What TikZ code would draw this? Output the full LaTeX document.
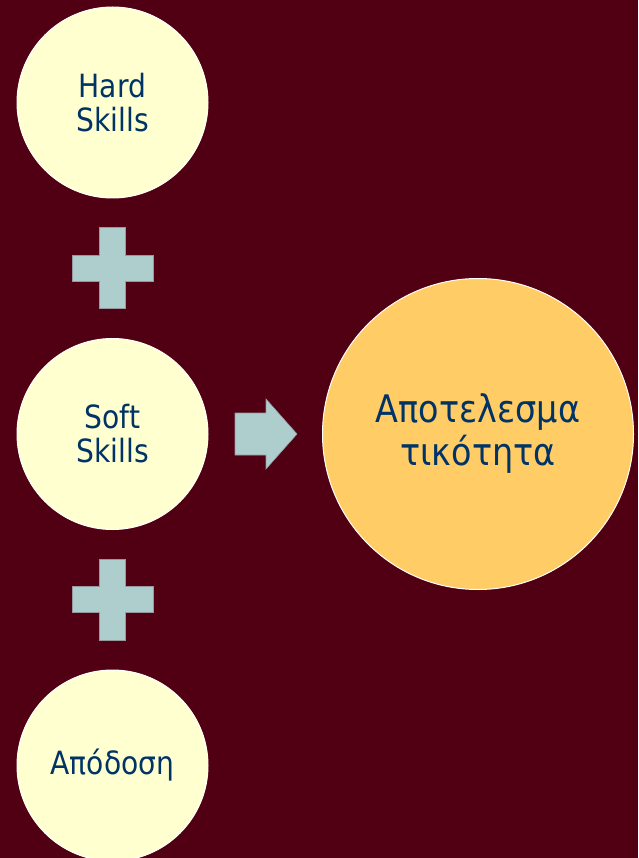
\documentclass[tikz,border=0pt]{standalone}
\usepackage{fontspec}
\newfontfamily\lblfont[FakeStretch=0.88]{DejaVu Sans}
\usetikzlibrary{calc, positioning}
\definecolor{bgred}{RGB}{80,0,18}
\definecolor{cream}{RGB}{255,255,208}
\definecolor{gold}{RGB}{255,204,102}
\definecolor{plusgray}{RGB}{174,205,205}
\definecolor{txtblue}{RGB}{0,51,102}

\begin{document}
\begin{tikzpicture}[
  x=1pt, y=-1pt,
  skillcirc/.style={
    circle,
    draw=white,
    line width=1pt,
    fill=cream,
    minimum size=191pt,
    inner sep=0pt,
    align=center,
    text=txtblue,
    font=\lblfont\fontsize{32}{34}\selectfont
    },
  resultcirc/.style={
    skillcirc,
    fill=gold,
    minimum size=311pt,
    font=\lblfont\fontsize{38}{43}\selectfont
    },
  blockfill/.style={fill=plusgray, draw=plusgray!75!bgred, line width=0.6pt}
]

\useasboundingbox (0,0) rectangle (638,858);
\fill[bgred] (0,0) rectangle (638,858);

\node[skillcirc] (hard) at (112.5,102.5) {Hard\\Skills};
\node[skillcirc, below=139.5pt of hard] (soft) {Soft\\Skills};
\node[skillcirc, below=139.5pt of soft] (apodosi) {Απόδοση};
\node[resultcirc, right=113.5pt of soft] (result) {Αποτελεσμα\\τικότητα};

  % plus signs between the circles
  \coordinate (plusA) at ($(hard)!0.5!(soft)$);
  \coordinate (plusB) at ($(soft)!0.5!(apodosi)$);
  \foreach \p in {plusA, plusB}
    \draw[blockfill] (\p) ++(-13,-40.5) -- ++(26,0) -- ++(0,27.5) -- ++(27.5,0)
      -- ++(0,26) -- ++(-27.5,0) -- ++(0,27.5) -- ++(-26,0) -- ++(0,-27.5)
      -- ++(-27.5,0) -- ++(0,-26) -- ++(27.5,0) -- cycle;

  % block arrow towards the result
  \coordinate (arr) at ($(soft.east)+(26.5,0)$);
  \draw[blockfill] (arr) ++(0,-21) -- ++(31,0) -- ++(0,-14) -- ++(31,35)
    -- ++(-31,35) -- ++(0,-14) -- ++(-31,0) -- cycle;

\end{tikzpicture}
\end{document}
